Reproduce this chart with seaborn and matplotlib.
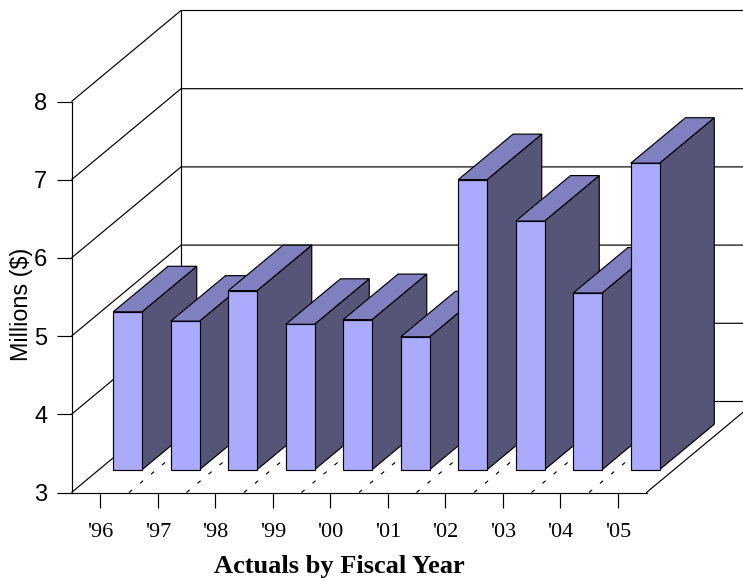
import matplotlib
matplotlib.use("Agg")
import matplotlib.pyplot as plt
from matplotlib.patches import Polygon
import pandas as pd
import seaborn as sns

years = ["'96", "'97", "'98", "'99", "'00", "'01", "'02", "'03", "'04", "'05"]
actuals = [5.02, 4.90, 5.29, 4.86, 4.92, 4.70, 6.71, 6.18, 5.26, 6.92]
y_ticks = [3, 4, 5, 6, 7, 8]

FRONT = "#AAAAFF"
TOP = "#8080C0"
SIDE = "#555578"
LW = 0.85

W, H = 743, 578
# Plot box in pixels: the front plane of the chart
LEFT, RIGHT, BASE, TOP_PX = 71.5, 646.5, 492.5, 101.5
# Oblique projection: shift of the full depth, in category and value units
DEPTH_X = 109.5 / 57.5
DEPTH_Y = 91.0 / 78.2
BAR_NEAR, BAR_FAR = 0.25, 0.75
X0, X1 = -0.5, 9.5
Y0, Y1 = 3, 8

sns.set_theme(style="white")
plt.rcParams["lines.scale_dashes"] = False
plt.rcParams["font.family"] = ["Liberation Sans", "DejaVu Sans"]
plt.rcParams["text.color"] = "black"
plt.rcParams["axes.labelcolor"] = "black"
plt.rcParams["xtick.labelcolor"] = "black"
plt.rcParams["ytick.labelcolor"] = "black"


def project(x, y, depth):
    return x + depth * DEPTH_X, y + depth * DEPTH_Y


def box(left, bottom):
    return [left / W, 1 - bottom / H, (RIGHT - LEFT) / W, (BASE - TOP_PX) / H]


fig = plt.figure(figsize=(W / 100, H / 100), dpi=100, facecolor="white")
ax = fig.add_axes(box(LEFT, BASE))
ax.set_xlim(X0, X1)
ax.set_ylim(Y0, Y1)
ax.patch.set_alpha(0)

# Walls and floor of the chart box
for v in y_ticks:
    ax.plot(*zip(project(X0, v, 0), project(X0, v, 1), project(X1 + 1, v, 1)),
            color="black", lw=LW, clip_on=False, solid_capstyle="butt")
ax.plot(*zip(project(X0, Y0, 1), project(X0, Y1, 1)), color="black", lw=LW, clip_on=False)
ax.plot(*zip(project(X1, Y0, 0), project(X1, Y0, 1)), color="black", lw=LW, clip_on=False)
for i in range(1, len(years)):
    ax.plot(*zip(project(X0 + i, Y0, 0), project(X0 + i, Y0, 1)), color="black", lw=LW,
            linestyle=(0, (2.9, 7.4)), clip_on=False, dash_capstyle="butt")

for name in ("top", "right"):
    ax.spines[name].set_visible(False)
for name in ("left", "bottom"):
    ax.spines[name].set_color("black")
    ax.spines[name].set_linewidth(LW)
ax.set_xticks(range(len(years)), years, family="Liberation Serif", fontsize=16)
ax.set_yticks(y_ticks)
ax.tick_params(axis="both", which="major", bottom=True, left=True, length=11,
               width=LW, color="black")
ax.tick_params(axis="x", pad=11)
ax.tick_params(axis="y", pad=6.5, labelsize=17)
ax.set_xlabel("Actuals by Fiscal Year", family="Liberation Serif", fontweight="bold",
              fontsize=19, va="baseline")
ax.xaxis.set_label_coords(0.465, -0.206)
ax.set_ylabel("Millions ($)", fontsize=16.8, va="baseline")
ax.yaxis.set_label_coords(-0.075, 0.481)

# Bars stand a quarter of the depth behind the front plane
bar_ax = fig.add_axes(box(LEFT + BAR_NEAR * 109.5, BASE - BAR_NEAR * 91.0))
bar_ax.patch.set_alpha(0)
frame = pd.DataFrame({"year": years, "actual": actuals})
sns.barplot(data=frame, x="year", y="actual", color=FRONT, saturation=1, width=0.5,
            edgecolor="black", linewidth=LW, ax=bar_ax)
bar_ax.set_xlim(X0, X1)
bar_ax.set_ylim(Y0, Y1)
bar_ax.axis("off")

span = (BAR_FAR - BAR_NEAR)
for i, (bar, v) in enumerate(zip(bar_ax.patches, actuals)):
    bar.set_y(Y0)
    bar.set_height(v - Y0)
    bar.set_clip_on(False)
    bar.set_zorder(10 + 3 * i + 2)
    xl, xr = bar.get_x(), bar.get_x() + bar.get_width()
    side = [(xr, Y0), (xr, v), project(xr, v, span), project(xr, Y0, span)]
    top = [(xl, v), (xr, v), project(xr, v, span), project(xl, v, span)]
    bar_ax.add_patch(Polygon(side, closed=True, facecolor=SIDE, edgecolor="black", lw=LW,
                             clip_on=False, zorder=10 + 3 * i))
    bar_ax.add_patch(Polygon(top, closed=True, facecolor=TOP, edgecolor="black", lw=LW,
                             clip_on=False, zorder=10 + 3 * i + 1))

fig.savefig("out.png", dpi=100, facecolor="white")
